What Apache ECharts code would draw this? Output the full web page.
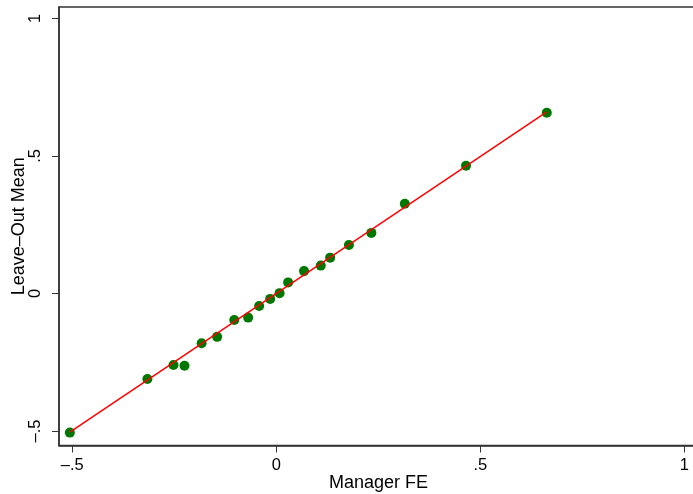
<!DOCTYPE html>
<html>
<head>
<meta charset="utf-8">
<title>Leave-Out Mean vs Manager FE</title>
<script src="https://cdn.jsdelivr.net/npm/echarts@6/dist/echarts.min.js"></script>
<style>
  html, body { margin: 0; padding: 0; background: #fff; }
  #chart { width: 693px; height: 494px; }
</style>
</head>
<body>
<div id="chart"></div>
<script>
// Binned scatter: manager fixed effect vs. leave-out mean
const managerFE    = [-0.506, -0.316, -0.252, -0.225, -0.183, -0.145, -0.103, -0.069, -0.042, -0.015,
                       0.008,  0.029,  0.068,  0.109,  0.132,  0.178,  0.233,  0.315,  0.465,  0.663];
const leaveOutMean = [-0.506, -0.311, -0.260, -0.263, -0.181, -0.158, -0.097, -0.088, -0.046, -0.020,
                       0.001,  0.040,  0.081,  0.101,  0.130,  0.176,  0.220,  0.326,  0.464,  0.657];

// Linear fit, drawn between its two end points
const fitX = [-0.506, 0.663];
const fitY = [-0.504, 0.660];

// Axis ticks and their printed labels
const xTickValues = [-0.5, 0, 0.5, 1];
const xTickLabels = ['\u2013.5', '0', '.5', '1'];
const yTickValues = [-0.5, 0, 0.5, 1];
const yTickLabels = ['\u2013.5', '0', '.5', '1'];

const FONT = '"Liberation Sans", Arial, Helvetica, sans-serif';
const labelFor = (vals, labels) => v => {
  const i = vals.findIndex(t => Math.abs(t - v) < 1e-9);
  return i >= 0 ? labels[i] : '';
};

const chart = echarts.init(document.getElementById('chart'), null, { renderer: 'canvas' });

chart.setOption({
  animation: false,
  backgroundColor: '#ffffff',
  grid: {
    left: 59, top: 7, right: -5, bottom: 48.5,
    outerBoundsMode: 'none',
    containLabel: false,
    show: true, borderColor: '#333', borderWidth: 1.5, backgroundColor: '#fff'
  },
  xAxis: {
    type: 'value',
    min: -0.5326, max: 1.0336,
    name: 'Manager FE',
    nameLocation: 'middle',
    nameGap: 29,
    nameMoveOverlap: false,
    nameTextStyle: { fontFamily: FONT, fontSize: 18, color: '#000' },
    splitLine: { show: false },
    axisLine: { show: true, onZero: false, lineStyle: { color: '#333', width: 1.5 } },
    axisTick: { show: true, customValues: xTickValues, length: 7, lineStyle: { color: '#333', width: 1 } },
    axisLabel: {
      customValues: xTickValues,
      formatter: labelFor(xTickValues, xTickLabels),
      margin: 11, fontFamily: FONT, fontSize: 16.5, color: '#000'
    }
  },
  yAxis: {
    type: 'value',
    min: -0.5529, max: 1.0411,
    name: 'Leave\u2013Out Mean',
    nameLocation: 'middle',
    nameGap: 31,
    nameMoveOverlap: false,
    nameTextStyle: { fontFamily: FONT, fontSize: 18, color: '#000' },
    splitLine: { show: false },
    axisLine: { show: true, onZero: false, lineStyle: { color: '#333', width: 1.5 } },
    axisTick: { show: true, customValues: yTickValues, length: 7, lineStyle: { color: '#333', width: 1 } },
    axisLabel: {
      customValues: yTickValues,
      formatter: labelFor(yTickValues, yTickLabels),
      rotate: 90,
      margin: 15, fontFamily: FONT, fontSize: 16.5, color: '#000'
    }
  },
  series: [
    {
      name: 'Leave-Out Mean',
      type: 'scatter',
      data: managerFE.map((x, i) => [x, leaveOutMean[i]]),
      symbol: 'circle',
      symbolSize: 10,
      itemStyle: { color: '#007800', opacity: 1 },
      z: 2
    },
    {
      name: 'Fitted values',
      type: 'line',
      data: fitX.map((x, i) => [x, fitY[i]]),
      showSymbol: false,
      lineStyle: { color: '#ff0000', width: 1.5 },
      z: 3
    }
  ]
});
</script>
</body>
</html>
